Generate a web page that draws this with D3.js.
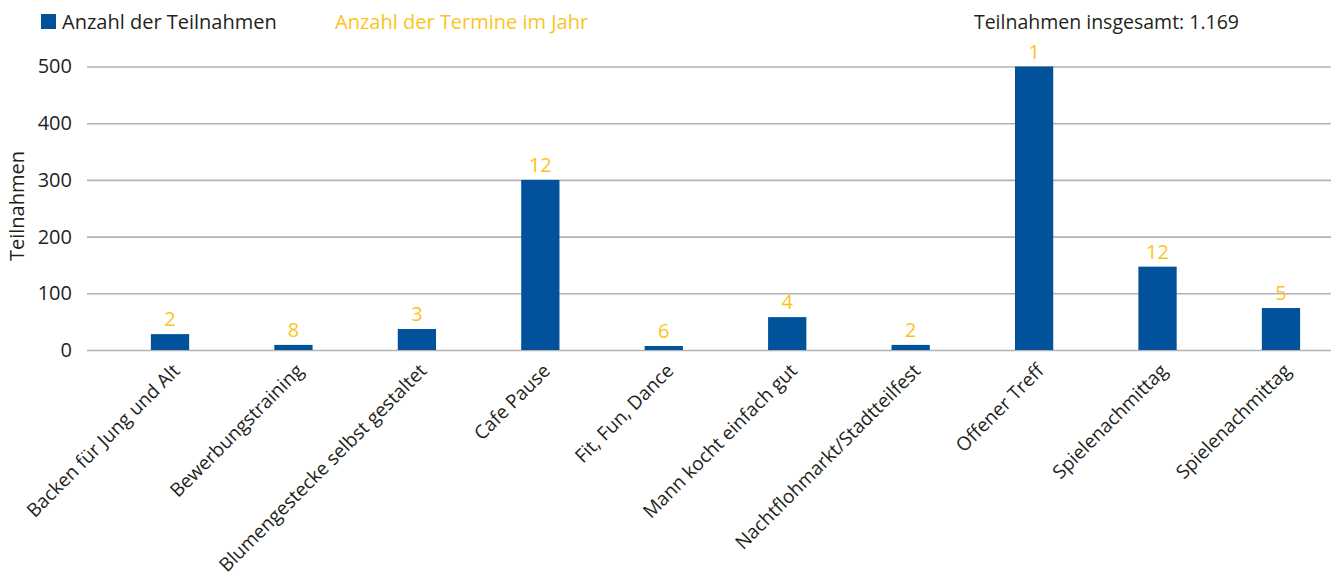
<!DOCTYPE html>
<html>
<head>
<meta charset="utf-8">
<script src="https://cdn.jsdelivr.net/npm/d3@7"></script>
<style>
  html, body { margin: 0; padding: 0; background: #fff; }
  svg { display: block; font-family: "Open Sans", sans-serif; }
</style>
</head>
<body>
<svg id="chart" width="1336" height="585"></svg>
<script>
// Angebote und ihre Teilnahmen
const categories = [
  "Backen für Jung und Alt",
  "Bewerbungstraining",
  "Blumengestecke selbst gestaltet",
  "Cafe Pause",
  "Fit, Fun, Dance",
  "Mann kocht einfach gut",
  "Nachtflohmarkt/Stadtteilfest",
  "Offener Treff",
  "Spielenachmittag",
  "Spielenachmittag "
];
const participants = [28, 9, 37, 300, 7, 58, 9, 500, 147, 74];
const eventsPerYear = [2, 8, 3, 12, 6, 4, 2, 1, 12, 5];
const yTicks = [0, 100, 200, 300, 400, 500];

const BLUE = "#01529b";
const YELLOW = "#fdc31c";
const TEXT = "#231f20";
const GRID = "#b3b3b5";
const FS = 20;

const svg = d3.select("#chart");

const plotLeft = 87, plotRight = 1331;
const x = d3.scaleBand()
  .domain(categories)
  .range([108.3, 1342.7])
  .paddingInner(0.69)
  .paddingOuter(0.345);

const y = d3.scaleLinear()
  .domain([0, 500])
  .range([350, 66.5]);

// Gitterlinien und Y-Achse
const yAxis = d3.axisLeft(y)
  .tickValues(yTicks)
  .tickSize(-(plotRight - plotLeft))
  .tickPadding(15)
  .tickFormat(d3.format("d"));

const gy = svg.append("g")
  .attr("transform", `translate(${plotLeft},0)`)
  .call(yAxis);
gy.select(".domain").remove();
gy.selectAll(".tick line")
  .attr("stroke", GRID)
  .attr("stroke-width", 1.6);
gy.selectAll(".tick text")
  .attr("fill", TEXT)
  .attr("font-size", FS)
  .attr("font-family", "'Open Sans', sans-serif");

// Balken
svg.append("g")
  .selectAll("rect")
  .data(participants)
  .join("rect")
  .attr("x", (d, i) => x(categories[i]))
  .attr("y", d => y(d))
  .attr("width", x.bandwidth())
  .attr("height", d => y(0) - y(d))
  .attr("fill", BLUE);

// Anzahl der Termine über den Balken
svg.append("g")
  .selectAll("text")
  .data(eventsPerYear)
  .join("text")
  .attr("x", (d, i) => x(categories[i]) + x.bandwidth() / 2)
  .attr("y", (d, i) => y(participants[i]) - 8)
  .attr("text-anchor", "middle")
  .attr("fill", YELLOW)
  .attr("font-size", FS)
  .text(d => d);

// X-Achsenbeschriftung, um 45° gedreht
const xAxis = d3.axisBottom(x).tickSize(0).tickPadding(0);
const gx = svg.append("g")
  .attr("transform", "translate(0,350)")
  .call(xAxis);
gx.select(".domain").remove();
gx.selectAll(".tick text")
  .attr("fill", TEXT)
  .attr("font-size", 19)
  .attr("font-family", "'Open Sans', sans-serif")
  .attr("text-anchor", "end")
  .attr("dy", null)
  .attr("transform", "translate(11,22) rotate(-45)");

// Achsentitel
svg.append("text")
  .attr("transform", "translate(24,206) rotate(-90)")
  .attr("text-anchor", "middle")
  .attr("fill", TEXT)
  .attr("font-size", FS)
  .text("Teilnahmen");

// Legende
svg.append("rect")
  .attr("x", 41).attr("y", 14)
  .attr("width", 15).attr("height", 15)
  .attr("fill", BLUE);
svg.append("text")
  .attr("x", 62).attr("y", 29)
  .attr("fill", TEXT)
  .attr("font-size", FS)
  .text("Anzahl der Teilnahmen");
svg.append("text")
  .attr("x", 335).attr("y", 29)
  .attr("fill", YELLOW)
  .attr("font-size", FS)
  .text("Anzahl der Termine im Jahr");

// Gesamtsumme
svg.append("text")
  .attr("x", 1239).attr("y", 29)
  .attr("text-anchor", "end")
  .attr("fill", TEXT)
  .attr("font-size", 19.5)
  .text("Teilnahmen insgesamt: " + d3.format(",")(d3.sum(participants)).replace(/,/g, "."));
</script>
</body>
</html>
